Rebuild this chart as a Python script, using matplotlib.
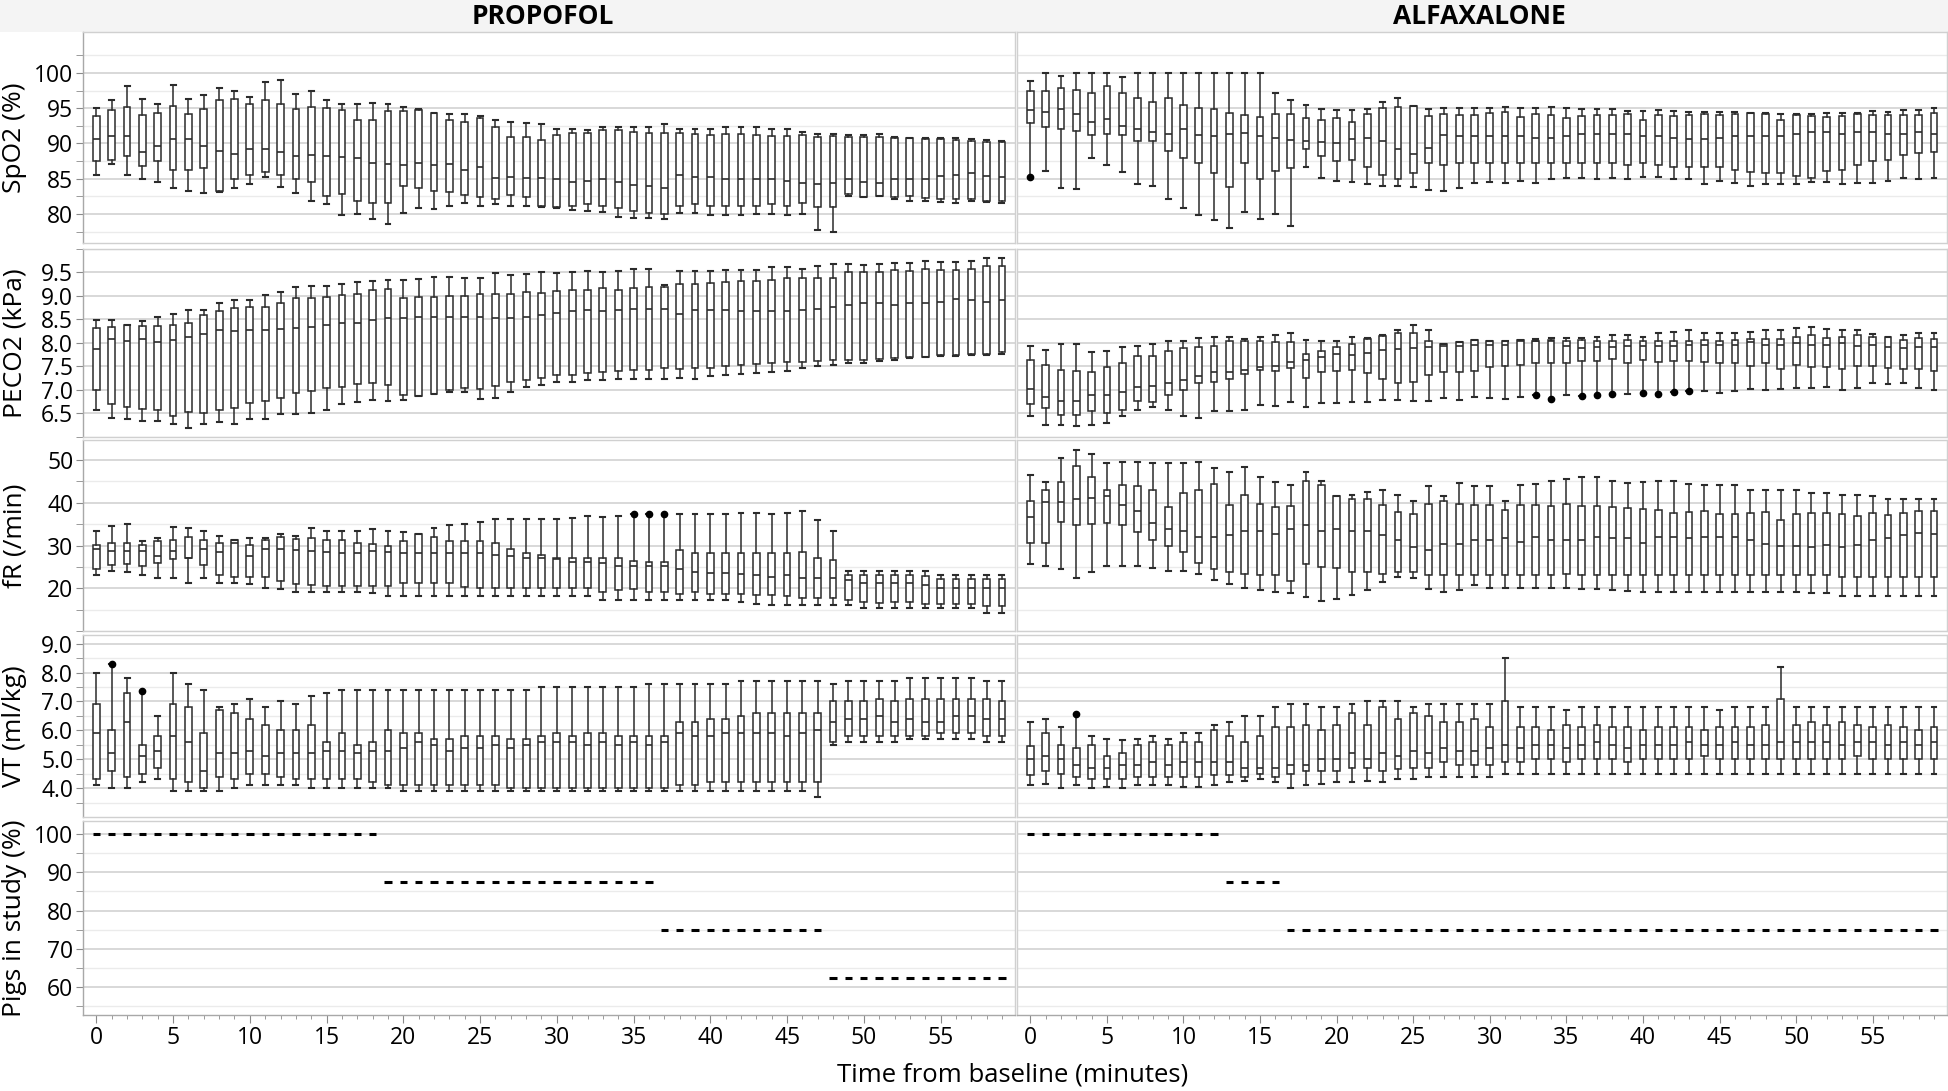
import matplotlib.pyplot as plt
import numpy as np

plt.rcParams['font.family'] = ['Open Sans', 'DejaVu Sans']

times = list(range(60))

# box stats per time point: (whisker low, q1, median, q3, whisker high)
spo2_propofol = [
    (85.6, 87.5, 90.7, 93.9, 95.0), (87.1, 87.6, 91.0, 94.8, 96.1), (85.6, 88.2, 91.0, 95.2, 98.1),
    (85.0, 86.8, 88.8, 94.0, 96.3), (84.6, 87.5, 89.6, 94.3, 95.6), (83.7, 86.3, 90.6, 95.3, 98.3),
    (83.3, 86.3, 90.7, 94.2, 96.3), (83.0, 86.5, 89.6, 94.9, 96.9), (83.1, 83.2, 88.9, 96.1, 97.9),
    (83.7, 85.0, 88.5, 96.3, 97.4), (84.2, 85.6, 89.2, 95.6, 96.6), (85.3, 86.0, 89.2, 96.2, 98.7),
    (83.8, 85.5, 88.8, 95.6, 99.0), (83.0, 85.0, 88.2, 94.9, 97.0), (81.9, 84.6, 88.3, 95.2, 97.4),
    (81.4, 82.5, 88.2, 95.0, 96.2), (79.9, 82.8, 88.1, 94.8, 95.6), (80.0, 81.9, 87.9, 93.3, 95.6),
    (79.3, 81.6, 87.3, 93.3, 95.8), (78.6, 81.6, 87.1, 94.6, 95.6), (80.2, 84.0, 86.9, 94.6, 95.2),
    (80.9, 83.7, 87.2, 94.8, 94.9), (80.7, 83.3, 86.9, 94.3, 94.3), (81.2, 83.1, 87.1, 93.4, 94.2),
    (81.5, 82.7, 86.2, 93.0, 94.2), (81.1, 82.4, 86.6, 93.6, 93.9), (81.4, 82.1, 85.1, 92.3, 93.4),
    (81.1, 82.7, 85.3, 90.9, 93.0), (81.1, 82.4, 85.1, 90.9, 92.9), (81.0, 81.1, 85.1, 90.5, 92.7),
    (80.8, 81.0, 84.9, 91.2, 92.1), (80.6, 81.2, 84.5, 91.5, 92.1), (80.5, 81.4, 84.7, 91.5, 91.9),
    (80.3, 81.1, 84.9, 91.9, 92.3), (79.6, 80.8, 84.5, 91.9, 92.3), (79.4, 80.5, 84.1, 91.7, 92.3),
    (79.4, 80.2, 84.0, 91.5, 92.4), (79.3, 80.0, 83.7, 91.5, 92.7), (80.2, 81.1, 85.6, 91.5, 92.1),
    (80.2, 81.4, 85.3, 91.4, 92.1), (79.9, 81.2, 85.3, 91.2, 92.1), (79.9, 81.2, 85.0, 91.4, 92.3),
    (79.8, 81.2, 85.0, 91.4, 92.3), (80.0, 81.2, 84.9, 91.2, 92.3), (80.0, 81.4, 84.9, 91.1, 92.0),
    (79.9, 81.2, 84.7, 91.1, 92.0), (80.0, 81.5, 84.4, 91.2, 91.7), (77.7, 81.0, 84.3, 90.9, 91.4),
    (77.4, 81.0, 84.4, 91.1, 91.4), (82.5, 82.8, 84.9, 90.9, 91.2), (82.4, 82.4, 84.6, 90.9, 91.2),
    (82.5, 82.5, 84.4, 90.9, 91.4), (82.2, 82.4, 84.9, 90.8, 90.9), (81.9, 82.5, 85.0, 90.8, 90.8),
    (81.8, 82.3, 84.9, 90.7, 90.8), (81.7, 82.1, 85.4, 90.7, 90.8), (81.5, 82.1, 85.6, 90.5, 90.8),
    (81.8, 82.1, 85.8, 90.4, 90.7), (81.7, 81.9, 85.4, 90.2, 90.5), (81.5, 81.9, 85.3, 90.2, 90.4),
]
spo2_alfaxalone = [
    (85.2, 92.9, 94.8, 97.4, 98.9), (86.1, 92.3, 94.4, 97.4, 100.0), (83.7, 92.1, 94.9, 97.8, 99.5),
    (83.5, 91.8, 94.2, 97.6, 100.0), (87.9, 91.2, 93.0, 97.1, 100.0), (87.0, 91.4, 93.5, 98.1, 100.0),
    (86.0, 91.2, 92.5, 97.2, 99.4), (84.3, 90.4, 92.0, 96.5, 100.0), (84.0, 90.4, 91.6, 95.9, 100.0),
    (82.2, 88.9, 91.4, 96.4, 100.0), (80.9, 87.9, 92.1, 95.5, 100.0), (79.9, 87.3, 91.2, 95.0, 100.0),
    (79.1, 85.8, 91.0, 94.9, 100.0), (78.0, 83.8, 91.4, 94.3, 100.0), (80.3, 87.3, 91.5, 94.0, 100.0),
    (79.3, 85.0, 91.0, 93.7, 100.0), (80.0, 86.1, 90.8, 94.2, 97.2), (78.3, 86.5, 90.5, 94.2, 96.1),
    (86.6, 89.2, 90.4, 93.6, 95.5), (85.1, 88.2, 90.2, 93.4, 94.9), (84.7, 87.5, 90.1, 93.6, 94.8),
    (84.5, 87.6, 90.7, 93.0, 94.8), (84.3, 86.6, 90.8, 94.2, 94.9), (84.0, 85.6, 90.4, 95.0, 95.9),
    (84.0, 85.0, 89.2, 95.2, 96.4), (83.8, 85.8, 88.5, 95.3, 95.3), (83.4, 87.3, 89.4, 93.9, 94.9),
    (83.3, 86.9, 91.2, 94.2, 95.0), (83.7, 87.2, 91.0, 94.0, 95.0), (84.4, 87.3, 91.0, 94.0, 95.0),
    (84.5, 87.2, 91.0, 94.3, 95.0), (84.4, 87.2, 91.1, 94.4, 95.2), (84.7, 87.3, 91.0, 93.7, 95.0),
    (84.4, 87.2, 90.8, 94.2, 95.0), (85.0, 87.3, 90.8, 94.0, 95.2), (85.1, 87.3, 91.0, 93.6, 95.0),
    (85.1, 87.3, 91.3, 93.9, 94.9), (85.0, 87.2, 91.3, 94.0, 94.9), (85.1, 87.2, 91.3, 94.0, 94.9),
    (85.0, 87.0, 91.4, 94.2, 94.6), (85.3, 87.3, 91.1, 93.3, 94.6), (85.3, 87.0, 91.0, 94.0, 94.8),
    (85.0, 86.7, 90.8, 93.9, 94.6), (84.9, 86.7, 90.7, 94.0, 94.4), (84.3, 86.7, 90.7, 94.2, 94.4),
    (84.7, 86.7, 90.8, 94.0, 94.4), (84.4, 86.3, 91.0, 94.2, 94.4), (84.0, 86.0, 91.0, 94.3, 94.3),
    (84.2, 85.8, 91.0, 94.2, 94.3), (84.3, 85.8, 91.1, 93.4, 94.2), (84.3, 85.4, 91.4, 94.0, 94.2),
    (84.6, 85.1, 91.6, 93.9, 94.2), (84.6, 86.1, 91.7, 93.7, 94.3), (84.3, 86.3, 91.4, 93.9, 94.3),
    (84.4, 87.0, 91.6, 94.2, 94.3), (84.4, 87.5, 91.6, 94.0, 94.6), (84.7, 87.7, 91.4, 94.0, 94.4),
    (85.1, 88.3, 91.4, 94.0, 94.8), (85.0, 88.6, 91.6, 94.0, 94.8), (85.1, 88.8, 91.4, 94.3, 95.0),
]
peco2_propofol = [
    (6.58, 7.00, 7.87, 8.31, 8.49), (6.41, 6.70, 8.08, 8.33, 8.49), (6.37, 6.63, 8.05, 8.38, 8.39),
    (6.34, 6.60, 8.09, 8.35, 8.47), (6.34, 6.56, 8.01, 8.35, 8.55), (6.27, 6.44, 8.07, 8.39, 8.62),
    (6.19, 6.53, 8.13, 8.42, 8.69), (6.27, 6.50, 8.18, 8.59, 8.71), (6.31, 6.58, 8.27, 8.68, 8.84),
    (6.27, 6.61, 8.25, 8.75, 8.91), (6.37, 6.72, 8.27, 8.77, 8.92), (6.37, 6.76, 8.27, 8.77, 9.01),
    (6.49, 6.83, 8.29, 8.86, 9.08), (6.49, 6.93, 8.31, 8.95, 9.18), (6.50, 6.98, 8.33, 8.95, 9.21),
    (6.58, 7.04, 8.38, 8.97, 9.21), (6.70, 7.07, 8.42, 9.03, 9.26), (6.73, 7.13, 8.42, 9.05, 9.29),
    (6.78, 7.15, 8.49, 9.12, 9.32), (6.76, 7.11, 8.53, 9.14, 9.34), (6.78, 6.89, 8.53, 8.95, 9.34),
    (6.87, 6.87, 8.55, 8.97, 9.37), (6.92, 6.92, 8.55, 8.97, 9.41), (6.96, 7.00, 8.55, 8.99, 9.41),
    (6.96, 7.04, 8.55, 8.99, 9.39), (6.80, 7.02, 8.55, 9.04, 9.39), (6.83, 7.09, 8.53, 9.04, 9.48),
    (6.96, 7.17, 8.53, 9.04, 9.44), (7.05, 7.20, 8.55, 9.08, 9.46), (7.11, 7.25, 8.59, 9.06, 9.50),
    (7.17, 7.31, 8.64, 9.10, 9.48), (7.17, 7.31, 8.67, 9.12, 9.52), (7.20, 7.35, 8.69, 9.12, 9.54),
    (7.20, 7.38, 8.67, 9.17, 9.52), (7.22, 7.41, 8.69, 9.12, 9.54), (7.22, 7.43, 8.73, 9.17, 9.58),
    (7.24, 7.43, 8.73, 9.19, 9.58), (7.22, 7.47, 8.73, 9.19, 9.24), (7.26, 7.44, 8.62, 9.26, 9.54),
    (7.24, 7.47, 8.69, 9.26, 9.54), (7.29, 7.47, 8.69, 9.28, 9.54), (7.31, 7.50, 8.69, 9.30, 9.56),
    (7.33, 7.53, 8.67, 9.32, 9.56), (7.35, 7.55, 8.67, 9.32, 9.56), (7.39, 7.57, 8.67, 9.34, 9.61),
    (7.41, 7.59, 8.67, 9.39, 9.61), (7.46, 7.59, 8.69, 9.39, 9.58), (7.50, 7.62, 8.73, 9.39, 9.63),
    (7.53, 7.64, 8.77, 9.39, 9.67), (7.57, 7.64, 8.81, 9.51, 9.67), (7.57, 7.64, 8.86, 9.50, 9.65),
    (7.62, 7.66, 8.84, 9.51, 9.69), (7.64, 7.68, 8.81, 9.56, 9.71), (7.67, 7.70, 8.84, 9.54, 9.71),
    (7.69, 7.70, 8.86, 9.58, 9.75), (7.73, 7.74, 8.88, 9.56, 9.73), (7.73, 7.74, 8.93, 9.56, 9.73),
    (7.75, 7.76, 8.91, 9.58, 9.75), (7.75, 7.76, 8.88, 9.63, 9.80), (7.77, 7.81, 8.91, 9.63, 9.80),
]
peco2_alfaxalone = [
    (6.44, 6.70, 7.02, 7.63, 7.94), (6.24, 6.61, 6.85, 7.52, 7.85), (6.26, 6.46, 6.76, 7.43, 7.98),
    (6.22, 6.46, 6.76, 7.41, 7.98), (6.24, 6.54, 6.88, 7.39, 7.81), (6.30, 6.51, 6.90, 7.48, 7.83),
    (6.44, 6.56, 6.96, 7.58, 7.92), (6.58, 6.76, 7.07, 7.72, 7.94), (6.63, 6.73, 7.09, 7.72, 7.98),
    (6.58, 6.90, 7.15, 7.83, 8.05), (6.44, 7.00, 7.21, 7.89, 8.05), (6.39, 7.15, 7.29, 7.92, 8.11),
    (6.54, 7.17, 7.37, 7.94, 8.13), (6.54, 7.24, 7.39, 8.05, 8.13), (6.58, 7.33, 7.43, 8.05, 8.09),
    (6.68, 7.43, 7.48, 8.05, 8.13), (6.66, 7.41, 7.50, 8.01, 8.16), (6.74, 7.46, 7.59, 8.01, 8.20),
    (6.63, 7.26, 7.63, 7.76, 8.07), (6.72, 7.37, 7.70, 7.83, 8.05), (6.72, 7.41, 7.76, 7.92, 8.03),
    (6.74, 7.43, 7.74, 7.98, 8.13), (6.74, 7.35, 7.78, 8.09, 8.10), (6.78, 7.24, 7.85, 8.15, 8.16),
    (6.78, 7.15, 7.87, 8.20, 8.27), (6.76, 7.17, 7.89, 8.20, 8.38), (6.76, 7.31, 7.92, 8.05, 8.27),
    (6.83, 7.37, 7.94, 7.98, 7.98), (6.78, 7.37, 7.94, 8.01, 8.01), (6.85, 7.41, 7.96, 8.07, 8.07),
    (6.83, 7.48, 7.96, 8.05, 8.05), (6.80, 7.50, 7.96, 8.05, 8.05), (6.85, 7.52, 8.03, 8.07, 8.07),
    (6.88, 7.57, 8.03, 8.05, 8.09), (6.80, 7.57, 8.03, 8.07, 8.11), (6.88, 7.57, 7.94, 8.05, 8.11),
    (6.86, 7.61, 7.90, 8.07, 8.11), (6.88, 7.61, 7.92, 8.05, 8.13), (6.92, 7.65, 7.92, 8.05, 8.16),
    (6.92, 7.57, 7.94, 8.07, 8.16), (6.93, 7.63, 7.94, 8.05, 8.13), (6.92, 7.59, 7.94, 8.03, 8.20),
    (6.96, 7.61, 7.94, 8.03, 8.23), (6.97, 7.61, 7.96, 8.05, 8.27), (6.98, 7.59, 7.96, 8.07, 8.22),
    (6.94, 7.57, 7.96, 8.05, 8.22), (6.98, 7.57, 7.96, 8.07, 8.22), (7.02, 7.50, 8.01, 8.09, 8.23),
    (7.00, 7.57, 7.96, 8.09, 8.27), (7.02, 7.44, 7.96, 8.09, 8.27), (7.04, 7.52, 7.99, 8.13, 8.31),
    (7.04, 7.48, 7.96, 8.16, 8.33), (7.07, 7.48, 7.96, 8.11, 8.29), (7.00, 7.44, 7.99, 8.13, 8.27),
    (7.04, 7.50, 7.94, 8.16, 8.27), (7.15, 7.50, 7.96, 8.13, 8.18), (7.13, 7.46, 7.92, 8.13, 8.13),
    (7.15, 7.44, 7.89, 8.07, 8.16), (7.04, 7.44, 7.92, 8.11, 8.20), (7.00, 7.41, 7.92, 8.09, 8.22),
]
fr_propofol = [
    (23.2, 24.5, 29.3, 30.1, 33.4), (24.1, 25.4, 28.8, 30.7, 34.6), (23.7, 25.6, 28.8, 30.7, 35.1),
    (23.2, 25.1, 28.8, 30.2, 31.1), (22.3, 25.8, 27.5, 31.0, 31.7), (22.3, 26.8, 28.8, 31.2, 34.3),
    (21.3, 27.1, 27.1, 32.1, 34.0), (22.3, 25.4, 29.3, 31.2, 33.5), (21.3, 23.2, 28.6, 30.7, 32.3),
    (21.3, 22.6, 30.5, 31.3, 31.3), (21.0, 22.6, 27.5, 30.1, 31.8), (20.1, 22.6, 29.3, 31.2, 31.8),
    (19.8, 21.8, 29.2, 32.1, 32.8), (19.1, 21.0, 29.0, 31.6, 32.3), (19.1, 20.8, 28.8, 31.8, 34.0),
    (19.1, 20.5, 28.6, 31.3, 33.5), (19.1, 20.5, 28.3, 31.3, 33.5), (19.1, 20.5, 28.3, 30.7, 33.5),
    (18.8, 20.5, 28.8, 30.3, 33.8), (18.3, 20.5, 28.6, 30.0, 33.3), (18.3, 21.3, 28.3, 31.1, 33.1),
    (18.3, 21.3, 28.3, 32.8, 32.8), (18.3, 21.3, 28.3, 32.1, 34.0), (18.3, 21.3, 28.3, 31.1, 34.8),
    (18.3, 20.3, 28.3, 31.1, 35.0), (18.3, 20.1, 28.3, 31.1, 35.5), (18.3, 20.1, 27.8, 30.7, 36.3),
    (18.3, 20.1, 27.5, 29.2, 36.3), (18.3, 20.1, 27.0, 28.2, 36.3), (18.3, 20.1, 27.2, 27.8, 36.3),
    (18.3, 20.1, 26.8, 27.0, 36.3), (18.1, 20.1, 26.1, 27.0, 36.5), (18.1, 20.1, 26.1, 27.0, 37.0),
    (17.3, 19.1, 25.8, 27.0, 36.7), (17.3, 19.6, 25.1, 27.0, 37.0), (17.3, 19.8, 25.1, 26.3, 37.3),
    (17.3, 19.1, 25.1, 26.1, 37.3), (17.3, 19.1, 25.1, 26.1, 37.3), (17.3, 18.6, 24.6, 29.0, 37.3),
    (17.3, 19.1, 23.8, 28.2, 37.3), (17.3, 18.6, 23.6, 28.2, 37.3), (17.3, 18.6, 23.6, 28.2, 37.3),
    (16.8, 18.6, 23.3, 28.2, 37.5), (16.3, 18.4, 23.1, 28.2, 37.7), (16.1, 18.4, 22.7, 28.2, 37.3),
    (16.1, 18.1, 23.0, 28.2, 37.7), (16.1, 17.8, 22.3, 28.5, 38.2), (16.1, 17.8, 22.3, 27.0, 36.0),
    (16.1, 17.8, 22.3, 26.5, 33.3), (16.0, 17.3, 22.0, 23.0, 24.1), (15.3, 16.8, 21.2, 23.0, 24.1),
    (15.3, 16.6, 21.2, 23.0, 24.1), (15.3, 16.8, 21.2, 23.0, 24.1), (15.3, 16.8, 21.2, 23.0, 24.1),
    (15.3, 16.3, 20.8, 22.8, 24.1), (15.3, 16.3, 20.1, 22.1, 23.0), (15.3, 16.3, 20.1, 22.1, 23.0),
    (15.3, 16.3, 20.1, 22.1, 23.0), (14.3, 15.9, 20.1, 22.1, 23.0), (14.3, 15.9, 20.1, 22.1, 23.0),
]
fr_alfaxalone = [
    (25.6, 30.7, 36.7, 40.5, 46.5), (25.1, 30.7, 40.2, 43.1, 44.8), (24.4, 35.5, 40.2, 44.8, 50.6),
    (22.3, 34.8, 40.9, 48.6, 52.3), (23.7, 35.0, 41.2, 46.1, 51.5), (25.1, 35.3, 41.7, 43.1, 49.3),
    (25.1, 34.8, 39.6, 44.1, 49.6), (25.1, 33.2, 38.1, 43.9, 49.5), (24.8, 31.4, 35.3, 43.1, 49.4),
    (24.1, 30.0, 33.8, 39.1, 49.4), (24.1, 28.5, 33.5, 42.2, 49.4), (23.4, 25.8, 32.1, 43.1, 49.6),
    (22.0, 24.4, 31.9, 44.4, 48.2), (21.0, 23.7, 32.4, 39.6, 47.2), (20.1, 23.4, 33.5, 41.9, 48.4),
    (19.6, 23.2, 33.5, 39.8, 46.1), (19.1, 23.0, 32.6, 39.1, 44.8), (18.8, 21.8, 33.8, 39.3, 44.1),
    (17.9, 25.6, 34.7, 45.1, 47.2), (17.1, 24.9, 33.5, 44.1, 45.1), (17.4, 24.7, 33.8, 41.6, 41.6),
    (18.4, 23.9, 33.3, 40.8, 41.9), (19.6, 23.7, 33.3, 41.0, 42.6), (21.5, 23.4, 32.4, 39.6, 43.0),
    (22.7, 23.7, 31.2, 37.9, 41.9), (22.5, 23.7, 29.7, 37.4, 40.5), (19.8, 23.2, 29.0, 39.8, 43.9),
    (19.1, 23.0, 30.4, 40.5, 41.6), (19.6, 23.0, 30.4, 39.8, 44.6), (20.8, 23.2, 31.4, 39.6, 43.9),
    (20.1, 23.2, 31.4, 39.6, 43.9), (20.1, 23.2, 31.7, 38.4, 40.5), (20.1, 23.2, 30.9, 39.6, 44.1),
    (20.1, 23.2, 31.9, 39.6, 44.4), (20.1, 23.2, 31.2, 39.3, 45.1), (20.1, 23.4, 31.2, 39.8, 45.5),
    (19.8, 23.0, 31.2, 39.3, 46.1), (19.8, 23.2, 31.9, 39.3, 46.1), (19.6, 23.0, 31.7, 39.1, 45.1),
    (19.4, 23.0, 31.7, 38.8, 44.6), (19.1, 23.0, 30.7, 38.6, 44.8), (19.1, 23.0, 32.1, 38.4, 45.1),
    (19.1, 23.0, 31.9, 37.7, 45.1), (19.1, 23.0, 31.7, 37.9, 44.4), (19.1, 23.0, 31.9, 38.1, 44.1),
    (19.1, 23.0, 32.1, 37.4, 44.1), (19.1, 23.0, 31.9, 37.4, 44.1), (19.1, 23.0, 31.2, 37.7, 43.1),
    (19.1, 23.0, 30.4, 37.9, 43.1), (19.1, 23.0, 30.0, 36.0, 43.1), (19.1, 23.0, 30.0, 37.4, 42.9),
    (18.8, 23.0, 29.7, 37.7, 42.2), (18.8, 23.0, 30.2, 37.7, 42.2), (18.1, 22.7, 29.7, 37.4, 41.9),
    (18.1, 22.7, 30.2, 37.0, 41.9), (18.1, 22.7, 31.2, 37.7, 41.5), (18.1, 22.7, 31.7, 37.2, 41.0),
    (18.1, 22.7, 32.4, 37.7, 41.0), (18.1, 22.7, 32.9, 38.1, 41.0), (18.1, 22.7, 32.6, 38.1, 41.0),
]
vt_propofol = [
    (4.1, 4.3, 5.9, 6.9, 8.0), (4.0, 4.6, 5.2, 6.0, 8.3), (4.0, 4.4, 6.3, 7.3, 7.8),
    (4.2, 4.5, 5.1, 5.5, 7.35), (4.3, 4.7, 5.3, 5.8, 6.5), (3.9, 4.3, 5.8, 6.9, 8.0),
    (3.9, 4.2, 5.6, 6.8, 7.6), (3.9, 4.0, 4.6, 5.9, 7.4), (3.9, 4.4, 5.2, 6.7, 6.8),
    (4.0, 4.3, 5.2, 6.6, 6.9), (4.1, 4.5, 5.3, 6.4, 7.1), (4.1, 4.5, 5.1, 6.2, 6.8),
    (4.1, 4.4, 5.2, 6.0, 7.0), (4.1, 4.3, 5.2, 6.0, 6.9), (4.0, 4.3, 5.2, 6.2, 7.2),
    (4.0, 4.3, 5.3, 5.6, 7.3), (4.0, 4.3, 5.3, 5.9, 7.4), (4.0, 4.3, 5.2, 5.5, 7.4),
    (4.0, 4.2, 5.3, 5.6, 7.4), (4.0, 4.1, 5.3, 6.0, 7.4), (3.9, 4.1, 5.4, 5.9, 7.4),
    (3.9, 4.1, 5.6, 5.9, 7.4), (3.9, 4.1, 5.5, 5.7, 7.4), (3.9, 4.1, 5.3, 5.7, 7.4),
    (3.9, 4.1, 5.4, 5.8, 7.4), (3.9, 4.1, 5.4, 5.8, 7.4), (3.9, 4.1, 5.5, 5.8, 7.4),
    (3.9, 4.0, 5.4, 5.7, 7.4), (3.9, 4.0, 5.5, 5.7, 7.4), (3.9, 4.0, 5.6, 5.8, 7.5),
    (3.9, 4.0, 5.6, 5.9, 7.5), (3.9, 4.0, 5.6, 5.8, 7.5), (3.9, 4.0, 5.5, 5.9, 7.5),
    (3.9, 4.0, 5.6, 5.9, 7.5), (3.9, 4.0, 5.5, 5.8, 7.5), (3.9, 4.0, 5.6, 5.8, 7.5),
    (3.9, 4.0, 5.5, 5.8, 7.6), (3.9, 4.0, 5.6, 5.8, 7.6), (3.9, 4.1, 5.9, 6.3, 7.6),
    (3.9, 4.1, 5.8, 6.3, 7.6), (3.9, 4.2, 5.8, 6.4, 7.6), (3.9, 4.2, 5.9, 6.4, 7.6),
    (3.9, 4.2, 5.9, 6.5, 7.7), (3.9, 4.2, 5.9, 6.6, 7.7), (3.9, 4.2, 5.9, 6.6, 7.7),
    (3.9, 4.2, 5.8, 6.6, 7.7), (3.9, 4.2, 5.9, 6.6, 7.7), (3.7, 4.2, 6.0, 6.6, 7.7),
    (5.5, 5.6, 6.3, 7.0, 7.6), (5.6, 5.8, 6.4, 7.0, 7.7), (5.6, 5.8, 6.4, 7.0, 7.7),
    (5.6, 5.8, 6.5, 7.1, 7.7), (5.6, 5.8, 6.3, 7.0, 7.7), (5.7, 5.8, 6.4, 7.1, 7.8),
    (5.7, 5.8, 6.3, 7.1, 7.8), (5.7, 5.9, 6.3, 7.1, 7.8), (5.7, 5.9, 6.5, 7.1, 7.8),
    (5.7, 5.9, 6.5, 7.1, 7.8), (5.6, 5.8, 6.4, 7.1, 7.7), (5.6, 5.8, 6.4, 7.0, 7.7),
]
vt_alfaxalone = [
    (4.1, 4.45, 5.0, 5.45, 6.3), (4.15, 4.6, 5.1, 5.9, 6.4), (4.0, 4.5, 5.0, 5.5, 6.1),
    (4.1, 4.4, 4.8, 5.4, 6.55), (4.0, 4.3, 4.7, 5.5, 5.8), (4.05, 4.3, 4.7, 5.1, 5.7),
    (4.0, 4.3, 4.8, 5.2, 5.65), (4.1, 4.4, 4.8, 5.5, 5.7), (4.1, 4.4, 4.9, 5.6, 5.8),
    (4.1, 4.4, 4.8, 5.5, 5.7), (4.05, 4.4, 4.9, 5.6, 5.9), (4.05, 4.4, 4.9, 5.6, 5.9),
    (4.1, 4.45, 4.9, 6.0, 6.2), (4.2, 4.45, 4.9, 5.8, 6.3), (4.25, 4.4, 4.7, 5.6, 6.5),
    (4.3, 4.5, 4.7, 5.8, 6.5), (4.2, 4.4, 4.7, 6.1, 6.8), (4.0, 4.5, 4.8, 6.1, 6.9),
    (4.1, 4.6, 4.8, 6.2, 6.9), (4.15, 4.6, 5.0, 6.0, 6.8), (4.2, 4.6, 5.0, 6.2, 6.8),
    (4.2, 4.7, 5.2, 6.6, 6.9), (4.25, 4.7, 5.0, 6.2, 7.0), (4.2, 4.6, 5.2, 6.8, 7.0),
    (4.3, 4.65, 5.1, 6.4, 7.0), (4.3, 4.7, 5.3, 6.6, 6.8), (4.4, 4.7, 5.2, 6.5, 6.9),
    (4.4, 4.9, 5.4, 6.3, 6.9), (4.4, 4.8, 5.3, 6.3, 6.9), (4.4, 4.8, 5.3, 6.4, 6.9),
    (4.4, 4.8, 5.4, 6.1, 6.9), (4.5, 4.9, 5.5, 7.0, 8.5), (4.5, 4.9, 5.4, 6.1, 6.8),
    (4.5, 5.0, 5.5, 6.1, 6.8), (4.5, 5.0, 5.5, 6.0, 6.8), (4.5, 4.9, 5.4, 6.2, 6.7),
    (4.5, 5.0, 5.5, 6.1, 6.8), (4.5, 5.0, 5.6, 6.2, 6.8), (4.5, 5.0, 5.5, 6.1, 6.8),
    (4.5, 4.9, 5.4, 6.1, 6.8), (4.5, 5.0, 5.5, 6.0, 6.8), (4.5, 5.0, 5.5, 6.1, 6.8),
    (4.5, 5.0, 5.5, 6.1, 6.8), (4.5, 5.0, 5.6, 6.1, 6.8), (4.5, 5.1, 5.5, 6.0, 6.8),
    (4.5, 5.0, 5.5, 6.1, 6.7), (4.5, 5.0, 5.6, 6.1, 6.8), (4.5, 5.0, 5.5, 6.1, 6.8),
    (4.5, 5.0, 5.5, 6.2, 6.8), (4.5, 5.0, 5.6, 7.1, 8.2), (4.5, 5.0, 5.6, 6.2, 6.8),
    (4.5, 5.0, 5.6, 6.3, 6.8), (4.5, 5.0, 5.6, 6.2, 6.8), (4.5, 5.0, 5.5, 6.3, 6.8),
    (4.5, 5.1, 5.6, 6.2, 6.8), (4.5, 5.0, 5.6, 6.1, 6.8), (4.5, 5.0, 5.5, 6.2, 6.8),
    (4.5, 5.0, 5.6, 6.1, 6.8), (4.5, 5.0, 5.5, 6.0, 6.8), (4.5, 5.0, 5.6, 6.1, 6.8),
]

# outlying points {time: value}
fliers = {
    'spo2_alfaxalone': {0: 85.2},
    'peco2_alfaxalone': {33: 6.88, 34: 6.80, 36: 6.86, 37: 6.88, 38: 6.92,
                         40: 6.93, 41: 6.92, 42: 6.96, 43: 6.97},
    'fr_propofol': {35: 37.3, 36: 37.3, 37: 37.3},
    'vt_propofol': {1: 8.3, 3: 7.35},
    'vt_alfaxalone': {3: 6.55},
}

# pigs remaining in study (% of 8)
pigs_propofol = [100.0] * 19 + [87.5] * 18 + [75.0] * 11 + [62.5] * 12
pigs_alfaxalone = [100.0] * 13 + [87.5] * 4 + [75.0] * 43

row_labels = ['SpO2 (%)', 'PECO2 (kPa)', 'fR (/min)', 'VT (ml/kg)', 'Pigs in study (%)']
columns = ['PROPOFOL', 'ALFAXALONE']
box_data = {
    (0, 0): ('spo2_propofol', spo2_propofol), (0, 1): ('spo2_alfaxalone', spo2_alfaxalone),
    (1, 0): ('peco2_propofol', peco2_propofol), (1, 1): ('peco2_alfaxalone', peco2_alfaxalone),
    (2, 0): ('fr_propofol', fr_propofol), (2, 1): ('fr_alfaxalone', fr_alfaxalone),
    (3, 0): ('vt_propofol', vt_propofol), (3, 1): ('vt_alfaxalone', vt_alfaxalone),
}

# row layout: pixel top/bottom, y-limits, major and minor ticks, label format
rows = [
    dict(px=(32, 243), ylim=(75.9, 105.8), major=[80, 85, 90, 95, 100],
         minor=[77.5, 82.5, 87.5, 92.5, 97.5, 102.5], fmt='{:.0f}'),
    dict(px=(249, 437), ylim=(5.995, 10.0), major=[6.5, 7.0, 7.5, 8.0, 8.5, 9.0, 9.5],
         minor=[6.0, 10.0], fmt='{:.1f}'),
    dict(px=(440, 631), ylim=(10.0, 54.7), major=[20, 30, 40, 50],
         minor=[10, 15, 25, 35, 45], fmt='{:.0f}'),
    dict(px=(635, 817), ylim=(3.0, 9.3), major=[4.0, 5.0, 6.0, 7.0, 8.0, 9.0],
         minor=[3.5, 4.5, 5.5, 6.5, 7.5, 8.5], fmt='{:.1f}'),
    dict(px=(821, 1015), ylim=(52.7, 103.4), major=[60, 70, 80, 90, 100],
         minor=[55, 65, 75, 85, 95], fmt='{:.0f}'),
]
col_px = [(83, 1015), (1017, 1947)]

W, H = 1949, 1091
fig = plt.figure(figsize=(W / 100, H / 100), dpi=100)
fig.patches.append(plt.Rectangle((0, 1 - 32 / H), 1, 32 / H, transform=fig.transFigure,
                                 facecolor='#f4f4f4', edgecolor='none', zorder=-1))

edge = '#2b2b2b'
for r, row in enumerate(rows):
    for c in range(2):
        x0, x1 = col_px[c]
        top, bot = row['px']
        ax = fig.add_axes([x0 / W, 1 - bot / H, (x1 - x0) / W, (bot - top) / H])
        ax.set_xlim(-0.87, 59.85)
        ax.set_ylim(*row['ylim'])
        ax.set_yticks(row['major'])
        ax.set_yticks(row['minor'], minor=True)
        ax.set_yticklabels([row['fmt'].format(v) for v in row['major']])
        ax.grid(True, which='major', axis='y', color='#d5d5d5', lw=1.3)
        ax.grid(True, which='minor', axis='y', color='#ebebeb', lw=1.0)
        ax.set_axisbelow(True)
        for s in ax.spines.values():
            s.set_color('#d0d0d0')
            s.set_linewidth(1.0)
        if c == 0:
            ax.spines['left'].set_color('#a8a8a8')
            ax.tick_params(axis='y', which='both', direction='out', length=5,
                           color='#8a8a8a', labelsize=16.5, pad=2)
        else:
            ax.tick_params(axis='y', which='both', length=0, labelleft=False)

        if r == 4:
            ax.set_xticks(range(0, 60, 5))
            ax.set_xticks(times, minor=True)
            ax.tick_params(axis='x', which='major', length=6, color='#8a8a8a',
                           labelsize=16.5, pad=2)
            ax.tick_params(axis='x', which='minor', length=3, color='#8a8a8a')
            ax.spines['bottom'].set_color('#a8a8a8')
            pigs = np.array(pigs_propofol if c == 0 else pigs_alfaxalone)
            t = np.array(times)
            ax.hlines(pigs, t - 0.24, t + 0.24, color='black', lw=2.2)
        else:
            ax.tick_params(axis='x', which='both', length=0, labelbottom=False)
            name, data = box_data[(r, c)]
            fl = fliers.get(name, {})
            stats = []
            for i, (lo, q1, med, q3, hi) in enumerate(data):
                stats.append(dict(whislo=lo, q1=q1, med=med, q3=q3, whishi=hi,
                                  fliers=[fl[i]] if i in fl else []))
            ax.bxp(stats, positions=times, widths=0.44, capwidths=0.32, patch_artist=True,
                   manage_ticks=False,
                   boxprops=dict(facecolor='white', edgecolor=edge, linewidth=1.1),
                   medianprops=dict(color=edge, linewidth=1.2),
                   whiskerprops=dict(color=edge, linewidth=1.1),
                   capprops=dict(color=edge, linewidth=1.5),
                   flierprops=dict(marker='o', markerfacecolor='black',
                                   markeredgecolor='black', markersize=4.5))

    fig.text(15 / W, 1 - (sum(row['px']) / 2) / H, row_labels[r], rotation=90,
             ha='center', va='center', fontsize=19)

fig.text(543 / W, 1 - 16 / H, columns[0], ha='center', va='center',
         fontsize=19, fontweight='bold')
fig.text(1479 / W, 1 - 16 / H, columns[1], ha='center', va='center',
         fontsize=19, fontweight='bold')
fig.text(1013 / W, 1 - 1075 / H, 'Time from baseline (minutes)', ha='center',
         va='center', fontsize=18.5)

fig.savefig('out.png', dpi=100)
